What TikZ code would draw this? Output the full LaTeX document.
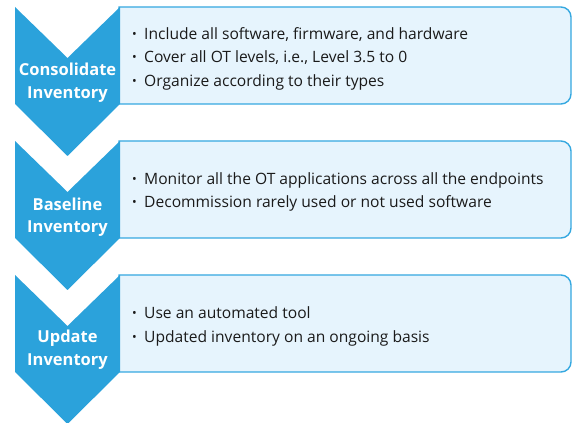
\documentclass[tikz,border=0pt]{standalone}
\usepackage{fontspec}
\setmainfont{Open Sans}
\definecolor{chev}{HTML}{2BA2DB}
\definecolor{boxfill}{HTML}{E6F4FD}
\definecolor{boxline}{HTML}{35A8E0}
\definecolor{txt}{HTML}{1A1A1A}
\newcommand{\smbul}{\makebox[12pt][l]{\raisebox{0.1ex}{\scalebox{0.8}{\textbullet}}}}
\begin{document}
\begin{tikzpicture}[x=1pt,y=1pt,
  chevshape/.style={fill=chev, draw=none},
  infobox/.style={fill=boxfill, draw=boxline, line width=1.4pt},
  chevlabel/.style={text=white, font=\fontsize{16.5}{22.5}\selectfont\bfseries, align=center, inner sep=0pt},
  boxtext/.style={text=txt, font=\fontsize{15.6}{23.5}\selectfont, align=left, anchor=west, inner sep=0pt}]
\useasboundingbox (0,0) rectangle (573,423);
\foreach \T/\n in {416/1,282/2,148/3}{
  \draw[infobox] (119,\T) -- (561,\T) arc[start angle=90,end angle=0,radius=10]
     -- (571,\T-87) arc[start angle=0,end angle=-90,radius=10] -- (119,\T-97) -- cycle;
  \fill[chevshape] (15,\T) -- (67.5,\T-51) -- (120,\T) -- (120,\T-97) -- (67.5,\T-149) -- (15,\T-97) -- cycle;
}
\node[chevlabel] (c1) at (67.5,340.5) {Consolidate\\Inventory};
\node[chevlabel] (c2) at (67.5,206) {Baseline\\Inventory};
\node[chevlabel] (c3) at (67.5,73.5) {Update\\Inventory};
\node[boxtext] (t1) at (132,364.5) {\smbul Include all software, firmware, and hardware\\\smbul Cover all OT levels, i.e., Level 3.5 to 0\\\smbul Organize according to their types};
\node[boxtext] (t2) at (132,231) {\smbul Monitor all the OT applications across all the endpoints\\\smbul Decommission rarely used or not used software};
\node[boxtext] (t3) at (132,96.5) {\smbul Use an automated tool\\\smbul Updated inventory on an ongoing basis};
\end{tikzpicture}
\end{document}
